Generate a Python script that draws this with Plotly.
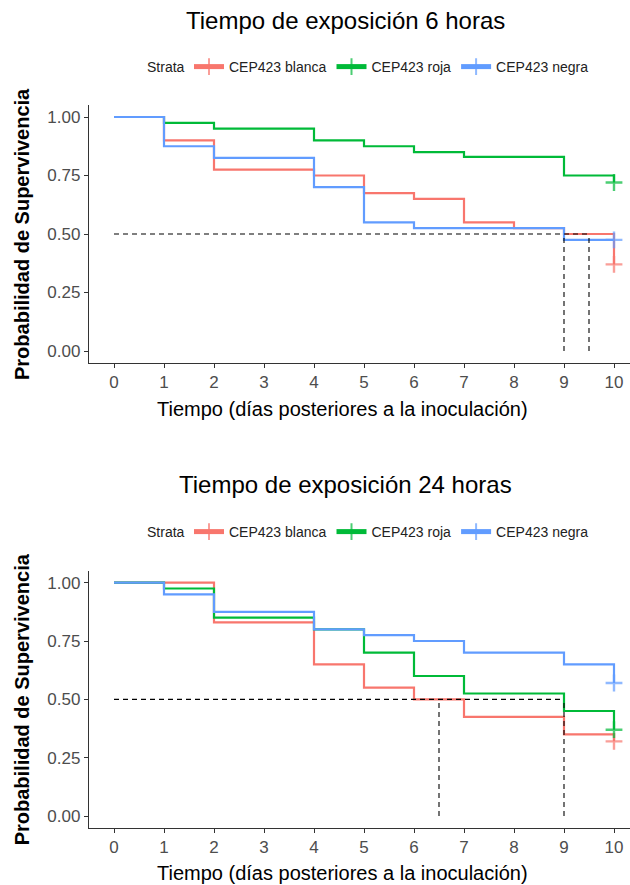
import plotly.graph_objects as go

# ---------------- data ----------------
series_names = ["CEP423 blanca", "CEP423 roja", "CEP423 negra"]
series_colors = ["#F8766D", "#00BA38", "#619CFF"]

# 6 hours
t6_blanca = [0, 1, 2, 4, 5, 6, 7, 8, 9, 10]
s6_blanca = [1.0, 0.90, 0.775, 0.75, 0.675, 0.65, 0.55, 0.525, 0.50, 0.37]
t6_roja = [0, 1, 2, 4, 5, 6, 7, 9, 10]
s6_roja = [1.0, 0.975, 0.95, 0.90, 0.875, 0.85, 0.83, 0.75, 0.72]
t6_negra = [0, 1, 2, 4, 5, 6, 9, 10]
s6_negra = [1.0, 0.875, 0.825, 0.70, 0.55, 0.525, 0.475, 0.475]
medians6 = [9.5, 9.0]

# 24 hours
t24_blanca = [0, 2, 4, 5, 6, 7, 9, 10]
s24_blanca = [1.0, 0.83, 0.65, 0.55, 0.50, 0.425, 0.35, 0.32]
t24_roja = [0, 1, 2, 4, 5, 6, 7, 9, 10]
s24_roja = [1.0, 0.975, 0.85, 0.80, 0.70, 0.60, 0.525, 0.45, 0.37]
t24_negra = [0, 1, 2, 4, 5, 6, 7, 9, 10]
s24_negra = [1.0, 0.95, 0.875, 0.80, 0.775, 0.75, 0.70, 0.65, 0.57]
medians24 = [6.5, 9.0]

x_ticks = list(range(0, 11))
y_ticks = [0.0, 0.25, 0.50, 0.75, 1.00]
y_ticklabels = ["0.00", "0.25", "0.50", "0.75", "1.00"]

titles = ["Tiempo de exposición 6 horas", "Tiempo de exposición 24 horas"]
x_title = "Tiempo (días posteriores a la inoculación)"
y_title = "Probabilidad de Supervivencia"
legend_title = "Strata"

# ---------------- layout geometry ----------------
W, H = 630, 885
FONT = "Liberation Sans, Arial, sans-serif"

def px_x(p):
    return p / W

def px_y(p):
    return 1 - p / H

panels = [
    dict(top=105.3, bottom=362.7, title_y=20, legend_y=67, xt_y=409,
         curves=[(t6_blanca, s6_blanca), (t6_roja, s6_roja), (t6_negra, s6_negra)],
         medians=medians6),
    dict(top=571.0, bottom=827.7, title_y=485, legend_y=532, xt_y=873,
         curves=[(t24_blanca, s24_blanca), (t24_roja, s24_roja), (t24_negra, s24_negra)],
         medians=medians24),
]

fig = go.Figure()
annotations = []

for i, p in enumerate(panels):
    k = "" if i == 0 else str(i + 1)
    xa, ya = "x" + k, "y" + k
    leg = "legend" if i == 0 else "legend2"
    for (t, s), name, col in zip(p["curves"], series_names, series_colors):
        sizes = [0] * (len(t) - 1) + [12]
        fig.add_trace(go.Scatter(
            x=t, y=s, mode="lines+markers", name=name,
            line=dict(color=col, width=2.2, shape="hv"),
            marker=dict(symbol="cross-thin", size=sizes,
                        line=dict(color=col, width=2.4), color=col),
            xaxis=xa, yaxis=ya, legend=leg, showlegend=True,
            hoverinfo="skip"))
    # median lines
    mmax = max(p["medians"])
    fig.add_trace(go.Scatter(x=[0, mmax], y=[0.5, 0.5], mode="lines",
                             line=dict(color="black", width=1.1, dash="5px,4px"),
                             xaxis=xa, yaxis=ya, showlegend=False, hoverinfo="skip"))
    for m in p["medians"]:
        fig.add_trace(go.Scatter(x=[m, m], y=[0, 0.5], mode="lines",
                                 line=dict(color="black", width=1.1, dash="5px,4px"),
                                 xaxis=xa, yaxis=ya, showlegend=False, hoverinfo="skip"))

    dom_y = [px_y(p["bottom"]), px_y(p["top"])]
    axis_common = dict(showgrid=False, zeroline=False, showline=True,
                       linecolor="#333333", linewidth=1.3, ticks="outside",
                       ticklen=4, tickwidth=1.1, tickcolor="#333333",
                       tickfont=dict(family=FONT, size=17, color="#4D4D4D"))
    fig.update_layout(**{
        "xaxis" + k: dict(domain=[px_x(89), 1.0], range=[-0.5, 10.32],
                          tickvals=x_ticks, anchor=ya, **axis_common),
        "yaxis" + k: dict(domain=dom_y, range=[-0.05, 1.05],
                          tickvals=y_ticks, ticktext=y_ticklabels,
                          anchor=xa, **axis_common),
        leg: dict(orientation="h", x=px_x(189), xanchor="left",
                  y=px_y(p["legend_y"]), yanchor="middle",
                  font=dict(family=FONT, size=14, color="#222"),
                  itemwidth=30, itemsizing="constant", tracegroupgap=0,
                  bgcolor="rgba(0,0,0,0)"),
    })
    annotations.append(dict(text=legend_title, x=px_x(145), y=px_y(p["legend_y"]),
                            xref="paper", yref="paper", showarrow=False,
                            xanchor="left", yanchor="middle",
                            font=dict(family=FONT, size=14, color="#222")))
    annotations.append(dict(text=titles[i], x=px_x(345), y=px_y(p["title_y"]),
                            xref="paper", yref="paper", showarrow=False,
                            xanchor="center", yanchor="middle",
                            font=dict(family=FONT, size=24, color="black")))
    annotations.append(dict(text=x_title, x=px_x(343), y=px_y(p["xt_y"]),
                            xref="paper", yref="paper", showarrow=False,
                            xanchor="center", yanchor="middle",
                            font=dict(family=FONT, size=20, color="black")))
    annotations.append(dict(text="<b>" + y_title + "</b>", x=px_x(22),
                            y=px_y((p["top"] + p["bottom"]) / 2),
                            xref="paper", yref="paper", showarrow=False,
                            textangle=-90, xanchor="center", yanchor="middle",
                            font=dict(family=FONT, size=20, color="black")))

fig.update_layout(width=W, height=H, margin=dict(l=0, r=0, t=0, b=0),
                  plot_bgcolor="white", paper_bgcolor="white",
                  annotations=annotations)

fig.write_html("out.html")
